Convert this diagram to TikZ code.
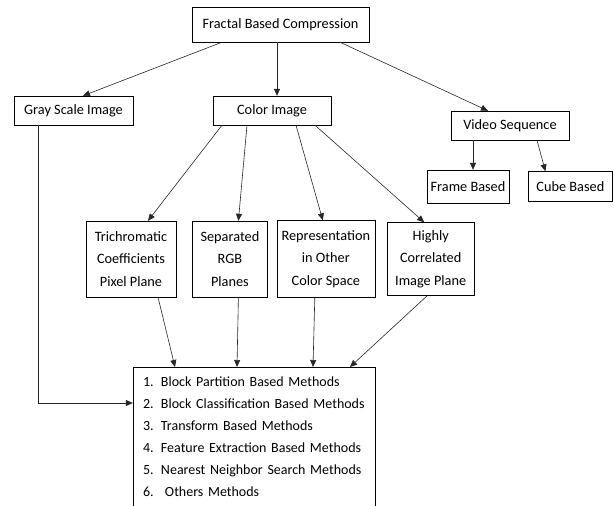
\documentclass[tikz,border=0pt]{standalone}
\usepackage{fontspec}
\setmainfont{Carlito}
\usetikzlibrary{positioning,arrows.meta}

\begin{document}
\begin{tikzpicture}[x=1pt,y=-1pt,>={Triangle[length=7pt,width=6pt]},
  b/.style={draw,align=center,font=\fontsize{14.3}{22.5}\selectfont,inner sep=2pt},
  l/.style={->,black!85,line width=0.6pt}]
\useasboundingbox (0,0) rectangle (614,506);
\node[b,minimum width=177pt,minimum height=35pt] (fbc) at (280.5,24.5) {Fractal Based Compression};
\node[b,minimum width=119pt,minimum height=29pt] (gray) at (73.5,110.5) {Gray Scale Image};
\node[b,minimum width=118pt,minimum height=29pt] (color) at (272,110.5) {Color Image};
\node[b,minimum width=118pt,minimum height=29pt] (video) at (510,125.5) {Video Sequence};
\node[b,minimum width=82pt,minimum height=33pt] (frame) at (468,186.5) {Frame Based};
\node[b,minimum width=84pt,minimum height=30pt,right=19pt of frame] (cube) {Cube Based};
% colour representations
\node[b,minimum width=90pt,minimum height=76pt] (tri) at (131,259) {Trichromatic\\Coefficients\\Pixel Plane};
\node[b,minimum width=75pt,minimum height=76pt,right=16pt of tri] (sep) {Separated\\RGB\\Planes};
\node[b,minimum width=98pt,minimum height=77pt,right=9pt of sep] (rep) {Representation\\in Other\\Color Space};
\node[b,minimum width=87pt,minimum height=73pt,right=12pt of rep] (high) {Highly\\Correlated\\Image Plane};
% method list, bottom edge runs off the page
\node[b,align=left,anchor=north,text width=222pt,inner xsep=10pt,inner ysep=10pt,
  font=\fontsize{14}{22}\selectfont] (mth) at (254,367)
  {\mbox{\makebox[18pt][l]{1.}Block Partition Based Methods}\\
   \mbox{\makebox[18pt][l]{2.}Block Classification Based Methods}\\
   \mbox{\makebox[18pt][l]{3.}Transform Based Methods}\\
   \mbox{\makebox[18pt][l]{4.}Feature Extraction Based Methods}\\
   \mbox{\makebox[18pt][l]{5.}Nearest Neighbor Search Methods}\\
   \mbox{\makebox[22pt][l]{6.}Others Methods}};
\draw[l] ([xshift=-58.5pt]fbc.south) -- ([xshift=9.5pt]gray.north);
\draw[l] ([xshift=-3.5pt]fbc.south) -- ([xshift=5pt]color.north);
\draw[l] ([xshift=59.5pt]fbc.south) -- ([xshift=-22pt]video.north);
\draw[l] ([xshift=-37pt]video.south) -- ([xshift=5pt]frame.north);
\draw[l] ([xshift=27pt]video.south) -- ([xshift=-25pt]cube.north);
\draw[l] ([xshift=-50pt]color.south) -- ([xshift=17pt]tri.north);
\draw[l] ([xshift=-25pt]color.south) -- ([xshift=8.5pt]sep.north);
\draw[l] ([xshift=24pt]color.south) -- ([xshift=-3pt]rep.north);
\draw[l] ([xshift=43pt]color.south) -- ([xshift=-6.5pt]high.north);
\draw[l] ([xshift=27pt]tri.south) -- ([xshift=-79pt]mth.north);
\draw[l] ([xshift=8.5pt]sep.south) -- ([xshift=-17pt]mth.north);
\draw[l] ([xshift=-11pt]rep.south) -- ([xshift=59pt]mth.north);
\draw[l] ([xshift=-3.5pt]high.south) -- ([xshift=96pt]mth.north);
\draw[l] ([xshift=-35.5pt]gray.south) |- ([yshift=-36pt]mth.north west);
\end{tikzpicture}
\end{document}
